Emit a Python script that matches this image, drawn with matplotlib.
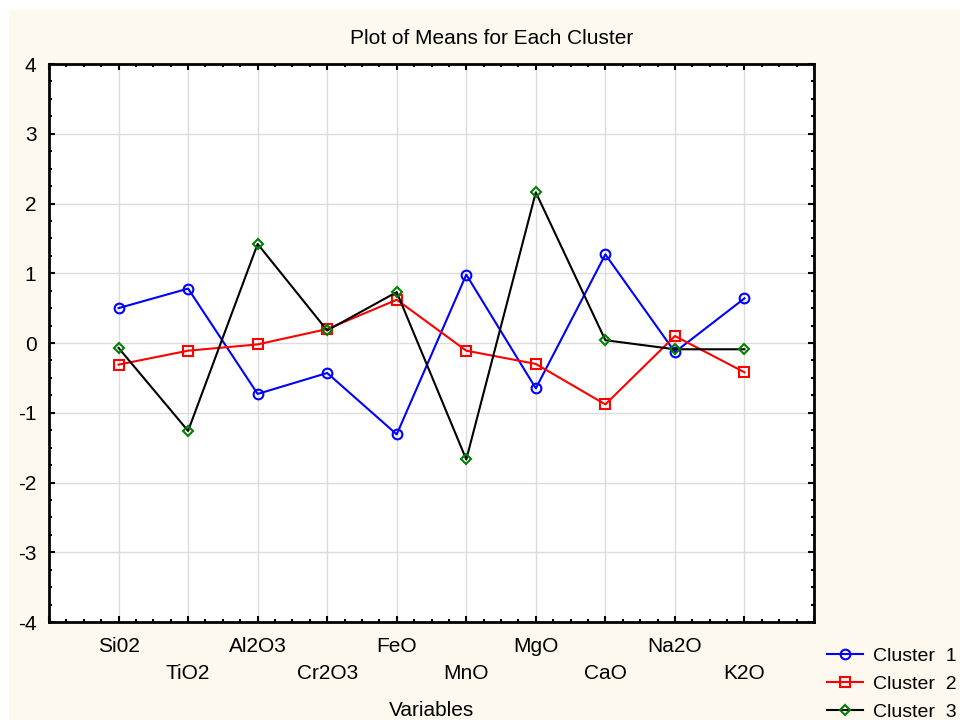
import numpy as np
import matplotlib
matplotlib.use("Agg")
import matplotlib.pyplot as plt
from matplotlib.patches import Rectangle
from matplotlib.ticker import MultipleLocator

plt.rcParams["font.family"] = ["Liberation Sans", "DejaVu Sans"]
plt.rcParams["axes.unicode_minus"] = False

variables = ["Si02", "TiO2", "Al2O3", "Cr2O3", "FeO", "MnO", "MgO", "CaO", "Na2O", "K2O"]
cluster_1 = [0.50, 0.78, -0.73, -0.43, -1.31, 0.98, -0.65, 1.27, -0.13, 0.64]
cluster_2 = [-0.31, -0.11, -0.02, 0.20, 0.62, -0.11, -0.30, -0.88, 0.10, -0.42]
cluster_3 = [-0.07, -1.26, 1.42, 0.18, 0.73, -1.67, 2.16, 0.04, -0.09, -0.09]

cream = "#FEF9EE"
fontsize = 15

fig = plt.figure(figsize=(9.6, 7.23), dpi=100, facecolor="white")
# cream panel behind everything, leaving a thin white border top/left
fig.patches.append(Rectangle((9 / 960, 3 / 723), 951 / 960, 710 / 723,
                             transform=fig.transFigure, facecolor=cream,
                             edgecolor="none", zorder=-10))

ax = fig.add_axes([49 / 960, 1 - 622 / 723, 765 / 960, 558 / 723])
ax.set_facecolor("white")

x = np.arange(1, len(variables) + 1)
ax.plot(x, cluster_1, color="blue", lw=1.5, marker="o", ms=7, mfc="none",
        mec="blue", mew=1.5, label="Cluster  1")
ax.plot(x, cluster_2, color="red", lw=1.5, marker="s", ms=6.5, mfc="none",
        mec="red", mew=1.5, label="Cluster  2")
ax.plot(x, cluster_3, color="black", lw=1.5, marker="D", ms=5, mfc="none",
        mec="green", mew=1.5, label="Cluster  3")

ax.set_xlim(0, len(variables) + 1)
ax.set_ylim(-4, 4)

# axes ticks: inward on all four sides, minor every quarter
ax.xaxis.set_major_locator(MultipleLocator(1))
ax.xaxis.set_minor_locator(MultipleLocator(0.25))
ax.yaxis.set_major_locator(MultipleLocator(1))
ax.yaxis.set_minor_locator(MultipleLocator(0.25))
ax.tick_params(which="both", direction="in", top=True, right=True, width=1.5)
ax.tick_params(which="major", length=4)
ax.tick_params(which="minor", length=2.5)
ax.tick_params(axis="y", labelsize=fontsize, pad=9)
ax.tick_params(axis="x", labelsize=fontsize, pad=11)

# staggered category labels
ticks = np.arange(0, len(variables) + 2)
labels = [""] + [v if i % 2 == 0 else "\n" + v for i, v in enumerate(variables)] + [""]
ax.set_xticks(ticks)
ax.set_xticklabels(labels, linespacing=1.5)

for s in ax.spines.values():
    s.set_linewidth(2)
    s.set_color("black")

ax.grid(True, which="major", color="#DCDCDC", lw=1)
ax.set_axisbelow(True)

ax.set_xlabel("Variables", fontsize=fontsize, labelpad=13)
fig.text(492 / 960, 1 - 38 / 723, "Plot of Means for Each Cluster",
         fontsize=fontsize, ha="center", va="center")

fig.legend(loc="upper left", bbox_to_anchor=(827 / 960, 1 - 647 / 723),
           frameon=False, fontsize=14, handlelength=1.85,
           handletextpad=0.5, labelspacing=0.55, borderpad=0, borderaxespad=0)

fig.savefig("out.png", dpi=100, facecolor=fig.get_facecolor())
